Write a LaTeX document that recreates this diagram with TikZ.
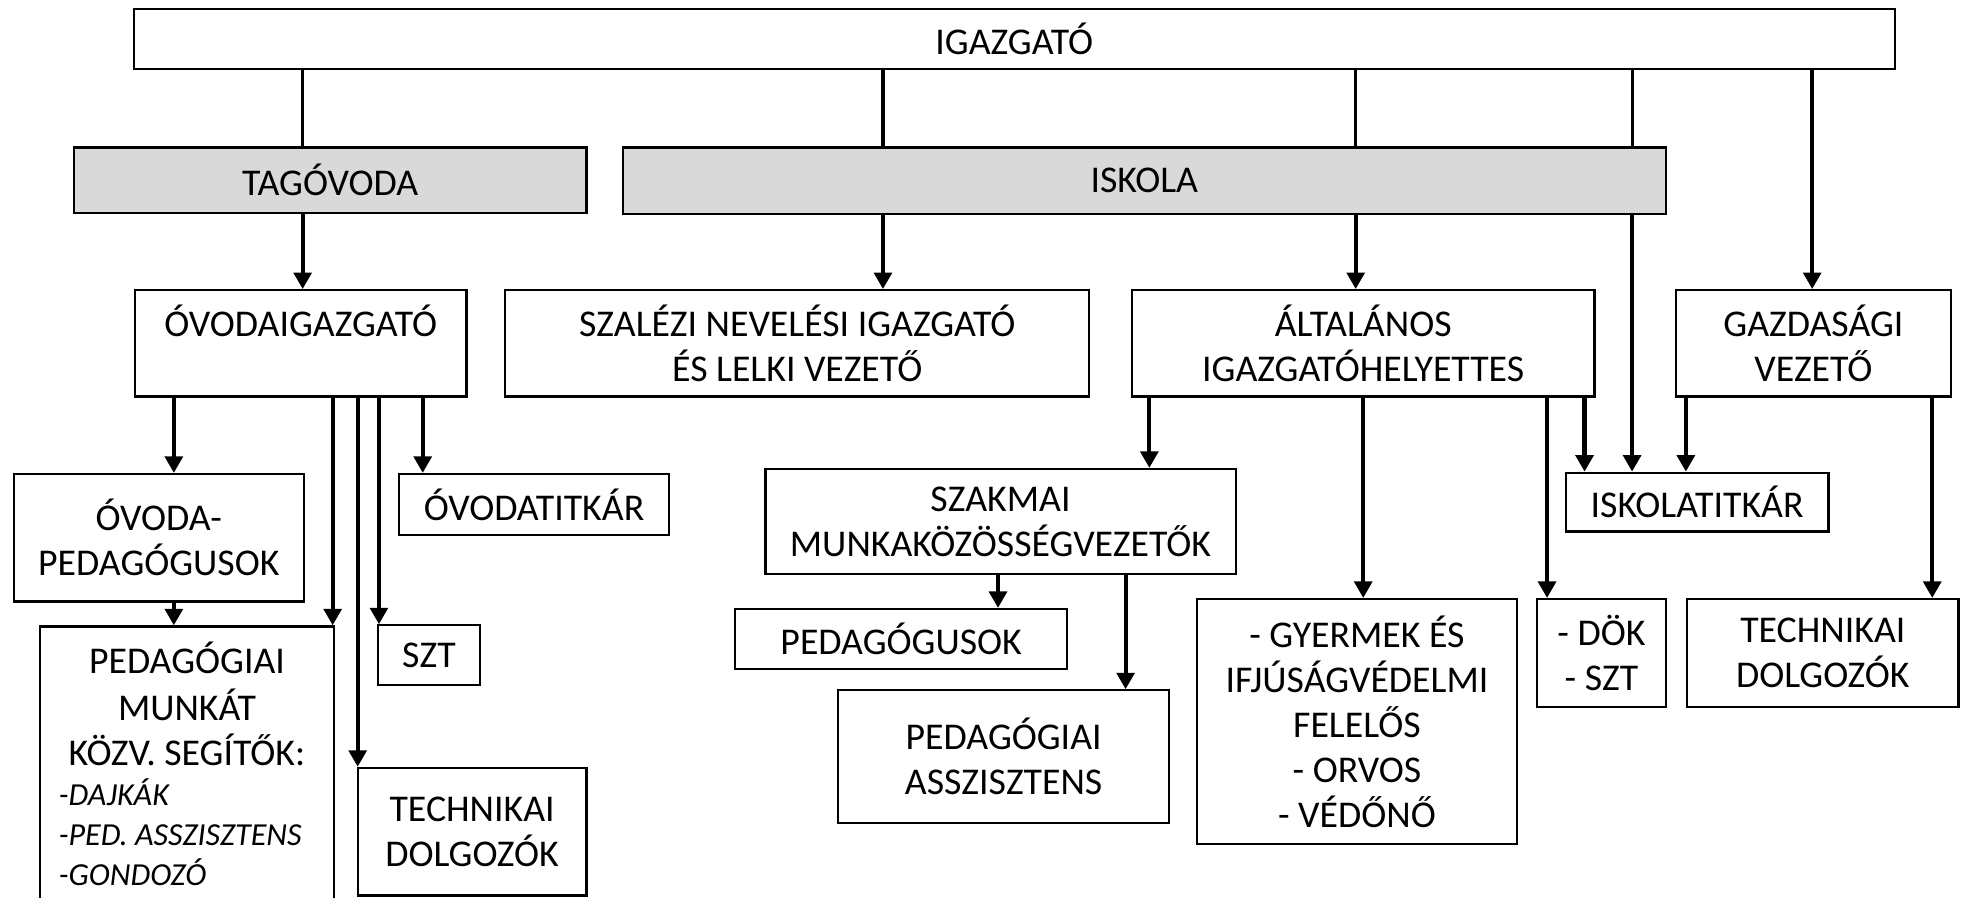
\documentclass[tikz,border=0pt]{standalone}
\usepackage{fontspec}
\setmainfont{Carlito}
\usetikzlibrary{arrows.meta}
\colorlet{mygray}{black!15}

\begin{document}
\begin{tikzpicture}[x=0.02cm,y=-0.02cm,font=\fontsize{17.2}{20.5}\selectfont]
\tikzset{BoxStyle/.style ={draw, line width=1pt, align=center, inner sep=0pt}}
\tikzset{BoxSize/.style 2 args ={minimum width=#1*0.02cm, minimum height=#2*0.02cm}}
\tikzset{UnitStyle/.style ={BoxStyle, fill=mygray}}
\tikzset{LineStyle/.style ={line width=1.4pt}}
\tikzset{ArrowStyle/.style ={line width=1.9pt, -{Triangle[length=7.5pt,width=8pt]}}}
\useasboundingbox (0,0) rectangle (1568,718);
\node[BoxStyle, BoxSize={1408}{48}] (IGAZ) at (811,31) {IGAZGATÓ};
\node[UnitStyle, BoxSize={410}{52}] (TAG) at (264,144) {TAGÓVODA};
\node[UnitStyle, BoxSize={834}{53}] (ISK) at (915,144.5) {ISKOLA};
\node[BoxStyle, BoxSize={265}{85}] (OVIG) at (240.5,274.5) {ÓVODAIGAZGATÓ\\\mbox{}};
\node[BoxStyle, BoxSize={467}{85}] (SZAL) at (637.5,274.5) {SZALÉZI NEVELÉSI IGAZGATÓ\\ÉS LELKI VEZETŐ};
\node[BoxStyle, BoxSize={370}{85}] (ALT) at (1090,274.5) {ÁLTALÁNOS\\IGAZGATÓHELYETTES};
\node[BoxStyle, BoxSize={220}{85}] (GAZD) at (1450,274.5) {GAZDASÁGI\\VEZETŐ};
\node[BoxStyle, BoxSize={232}{102}] (OVPED) at (127,430) {ÓVODA-\\PEDAGÓGUSOK};
\node[BoxStyle, BoxSize={216}{49}] (OVTIT) at (427,403.5) {ÓVODATITKÁR};
\node[BoxStyle, anchor=north] (SEGIT) at (149.5,500) {\begin{minipage}[t][4.8cm][t]{4.7cm}
  \centering\vspace*{7pt}\strut PEDAGÓGIAI\\MUNKÁT\\KÖZV. SEGÍTŐK:\par
  \raggedright\leftskip=0.3cm\fontsize{14.6}{18.2}\selectfont\itshape
  -DAJKÁK\\-PED. ASSZISZTENS\\-GONDOZÓ\par
\end{minipage}};
\node[BoxStyle, BoxSize={82}{48}] (OSZT) at (343,524) {SZT};
\node[BoxStyle, BoxSize={183}{102}] (OTECH) at (377.5,665) {TECHNIKAI\\DOLGOZÓK};
\node[BoxStyle, BoxSize={376}{84}] (SZAK) at (800,417) {SZAKMAI\\MUNKAKÖZÖSSÉGVEZETŐK};
\node[BoxStyle, BoxSize={265}{48}] (PED) at (720.5,511) {PEDAGÓGUSOK};
\node[BoxStyle, BoxSize={265}{106}] (PEDASSZ) at (802.5,605) {PEDAGÓGIAI\\ASSZISZTENS};
\node[BoxStyle, BoxSize={256}{196}] (GYER) at (1085,577) {- GYERMEK ÉS\\IFJÚSÁGVÉDELMI\\FELELŐS\\- ORVOS\\- VÉDŐNŐ};
\node[BoxStyle, BoxSize={103}{86}] (DOK) at (1280.5,522) {- DÖK\\- SZT};
\node[BoxStyle, BoxSize={210}{47}] (ISKTIT) at (1357,401.5) {ISKOLATITKÁR};
\node[BoxStyle, BoxSize={217}{86}] (TECH) at (1457.5,522) {TECHNIKAI\\DOLGOZÓK};
\draw[LineStyle] (242,0 |- IGAZ.south) -- (242,0 |- TAG.north);
\draw[ArrowStyle] (242,0 |- TAG.south) -- (242,0 |- OVIG.north);
\foreach \x in {706,1084,1305}
  \draw[LineStyle] (\x,0 |- IGAZ.south) -- (\x,0 |- ISK.north);
\foreach \x/\t in {706/SZAL,1084/ALT,1305/ISKTIT}
  \draw[ArrowStyle] (\x,0 |- ISK.south) -- (\x,0 |- \t.north);
\draw[ArrowStyle] (1449,0 |- IGAZ.south) -- (1449,0 |- GAZD.north);
\foreach \x/\t in {139/OVPED,266/SEGIT,286/OTECH,303/OSZT,338/OVTIT}
  \draw[ArrowStyle] (\x,0 |- OVIG.south) -- (\x,0 |- \t.north);
\draw[ArrowStyle] (139,0 |- OVPED.south) -- (139,0 |- SEGIT.north);
\foreach \x/\t in {919/SZAK,1090/GYER,1237/DOK,1267/ISKTIT}
  \draw[ArrowStyle] (\x,0 |- ALT.south) -- (\x,0 |- \t.north);
\foreach \x/\t in {1348/ISKTIT,1545/TECH}
  \draw[ArrowStyle] (\x,0 |- GAZD.south) -- (\x,0 |- \t.north);
\foreach \x/\t in {798/PED,900/PEDASSZ}
  \draw[ArrowStyle] (\x,0 |- SZAK.south) -- (\x,0 |- \t.north);
\end{tikzpicture}
\end{document}
